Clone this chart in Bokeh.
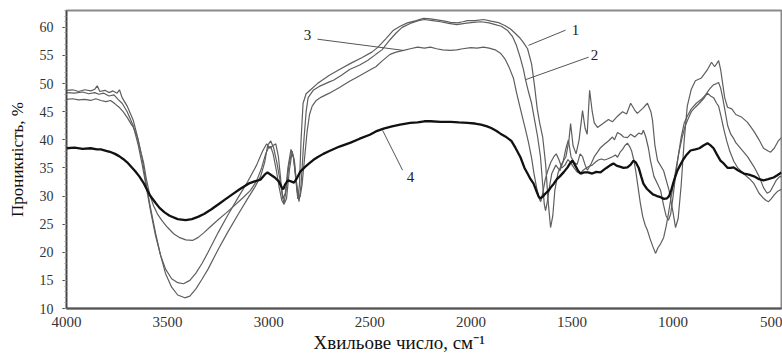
from bokeh.plotting import figure
from bokeh.models import Range1d, FixedTicker, ColumnDataSource, Title
from bokeh.core.properties import value
from bokeh.embed import file_html
from bokeh.resources import INLINE

# ---------------- data ----------------
wn_1 = [4000, 3970, 3940, 3910, 3880, 3860, 3848, 3835, 3810, 3790, 3770, 3750, 3738, 3725, 3700, 3670, 3645, 3625, 3605, 3585, 3560, 3535, 3510, 3480, 3450, 3415, 3390, 3360, 3330, 3300, 3250, 3204, 3150, 3105, 3070, 3040, 3020, 3005, 2990, 2975, 2960, 2945, 2930, 2918, 2905, 2890, 2878, 2866, 2856, 2848, 2840, 2830, 2815, 2790, 2759, 2700, 2650, 2595, 2540, 2490, 2462, 2420, 2383, 2350, 2314, 2270, 2234, 2200, 2160, 2130, 2101, 2066, 2040, 2017, 1980, 1938, 1900, 1870, 1854, 1830, 1804, 1780, 1760, 1740, 1720, 1700, 1685, 1672, 1660, 1645, 1630, 1618, 1606, 1595, 1585, 1570, 1550, 1530, 1515, 1507, 1495, 1480, 1465, 1448, 1435, 1425, 1413, 1400, 1390, 1374, 1350, 1320, 1300, 1275, 1250, 1230, 1210, 1190, 1177, 1150, 1127, 1110, 1102, 1090, 1077, 1047, 1020, 1000, 988, 975, 960, 945, 930, 910, 890, 860, 830, 810, 795, 785, 775, 765, 755, 745, 731, 710, 690, 660, 632, 600, 575, 553, 530, 518, 500, 480, 464]
t_1 = [48.8, 48.9, 48.6, 48.9, 48.7, 49.0, 49.6, 48.6, 48.8, 48.4, 48.7, 48.3, 48.9, 47.5, 46.0, 43.5, 40.0, 36.5, 32.0, 28.0, 23.5, 19.5, 16.2, 13.8, 12.4, 11.9, 12.2, 13.5, 15.2, 17.0, 20.5, 23.5, 26.8, 29.5, 31.5, 33.5, 36.0, 39.0, 39.8, 38.5, 36.0, 33.0, 29.5, 30.5, 35.0, 38.3, 37.0, 33.0, 29.5, 32.0, 40.0, 46.5, 48.2, 49.0, 50.0, 51.5, 52.5, 53.6, 54.6, 55.6, 56.4, 58.0, 59.5, 60.2, 60.8, 61.2, 61.6, 61.5, 61.3, 61.1, 60.9, 60.8, 61.0, 61.2, 61.2, 61.4, 61.1, 60.9, 60.7, 60.3, 59.7, 58.9, 58.2, 57.3, 56.2, 53.5, 49.5, 45.5, 43.0, 40.5, 35.5, 29.0, 24.4, 26.5, 31.0, 34.0, 35.8, 37.0, 40.0, 42.9, 39.0, 37.5, 40.0, 45.2, 42.0, 41.0, 48.8, 45.0, 43.0, 42.2, 42.8, 43.6, 43.2, 44.2, 45.0, 44.6, 46.5, 45.3, 44.7, 45.6, 46.5, 45.0, 43.5, 39.0, 36.3, 34.5, 31.0, 27.0, 24.4, 26.0, 32.0, 40.0, 46.0, 49.0, 50.5, 51.0, 52.5, 53.8, 53.0, 53.5, 54.1, 52.5, 50.0, 47.5, 45.8, 45.5, 44.5, 44.0, 43.1, 41.5, 40.0, 38.5, 38.0, 37.8, 38.5, 39.8, 40.4]

wn_2 = [4000, 3960, 3920, 3890, 3860, 3840, 3815, 3790, 3765, 3745, 3725, 3700, 3670, 3645, 3625, 3605, 3585, 3560, 3535, 3510, 3480, 3450, 3421, 3390, 3360, 3330, 3300, 3250, 3204, 3150, 3105, 3060, 3030, 3010, 2995, 2978, 2965, 2952, 2938, 2925, 2912, 2898, 2884, 2872, 2860, 2850, 2840, 2828, 2815, 2805, 2780, 2750, 2700, 2680, 2640, 2600, 2550, 2511, 2470, 2440, 2400, 2370, 2340, 2300, 2260, 2230, 2190, 2150, 2110, 2070, 2030, 1990, 1950, 1910, 1880, 1850, 1820, 1795, 1775, 1755, 1740, 1730, 1715, 1700, 1685, 1670, 1656, 1645, 1637, 1631, 1622, 1612, 1600, 1580, 1560, 1545, 1530, 1518, 1505, 1490, 1475, 1460, 1448, 1435, 1424, 1405, 1390, 1374, 1359, 1340, 1320, 1300, 1290, 1275, 1260, 1245, 1226, 1210, 1190, 1170, 1155, 1147, 1135, 1122, 1112, 1095, 1075, 1062, 1048, 1035, 1023, 1012, 1000, 990, 975, 960, 945, 930, 910, 885, 860, 840, 820, 800, 785, 775, 765, 755, 745, 730, 715, 700, 690, 660, 632, 600, 575, 553, 535, 520, 505, 490, 475, 464]
t_2 = [48.4, 48.3, 48.5, 48.2, 48.4, 48.1, 48.3, 47.8, 48.0, 47.2, 46.5, 45.0, 42.5, 39.0, 35.5, 31.5, 27.5, 23.0, 19.5, 17.0, 15.3, 14.6, 14.4, 15.0, 16.3, 18.0, 20.0, 23.5, 26.5, 29.8, 32.5, 35.5, 38.0, 39.3, 38.5, 39.0, 39.3, 37.0, 32.0, 28.5, 29.5, 34.5, 38.0, 36.0, 31.0, 29.0, 32.0, 39.0, 45.0, 47.5, 48.8, 49.5, 50.3, 50.6, 51.5, 52.5, 53.3, 54.1, 55.2, 56.0, 57.8, 59.0, 60.0, 60.7, 61.2, 61.4, 61.2, 61.0, 60.7, 60.5, 60.7, 60.9, 61.0, 60.8, 60.5, 60.2, 59.5, 58.4, 56.8, 54.5, 52.5, 50.7, 48.5, 46.5, 43.5, 40.5, 37.0, 32.0, 28.5, 27.4, 29.0, 31.5, 34.0, 35.5, 34.5, 36.0, 38.5, 40.0, 37.0, 36.0, 35.6, 37.5, 37.0, 35.5, 34.6, 35.8, 37.0, 37.8, 38.6, 39.2, 39.8, 40.5, 40.0, 41.3, 41.0, 40.5, 40.4, 41.0, 40.5, 41.2, 41.0, 41.7, 40.5, 38.5, 36.3, 33.5, 32.0, 31.0, 28.5, 26.5, 25.7, 26.8, 30.0, 33.0, 37.0, 40.5, 43.0, 44.2, 45.5, 46.5, 47.2, 48.0, 49.0, 49.8, 50.0, 50.2, 49.2, 47.5, 45.5, 42.5, 41.0, 40.2, 39.5, 38.2, 37.0, 35.2, 33.5, 31.5, 30.5, 30.8, 31.8, 32.8, 33.4, 33.5]

wn_3 = [4000, 3970, 3940, 3910, 3880, 3855, 3830, 3805, 3782, 3760, 3740, 3720, 3700, 3680, 3669, 3650, 3630, 3619, 3605, 3590, 3570, 3550, 3525, 3500, 3470, 3440, 3410, 3377, 3350, 3320, 3290, 3253, 3210, 3170, 3130, 3090, 3060, 3035, 3015, 3000, 2990, 2978, 2962, 2948, 2935, 2925, 2914, 2900, 2888, 2878, 2866, 2855, 2845, 2835, 2822, 2810, 2798, 2785, 2765, 2740, 2700, 2650, 2600, 2550, 2500, 2470, 2440, 2400, 2370, 2333, 2300, 2264, 2230, 2200, 2170, 2140, 2101, 2070, 2040, 2000, 1970, 1938, 1910, 1880, 1854, 1830, 1810, 1790, 1775, 1760, 1745, 1730, 1715, 1700, 1688, 1675, 1665, 1655, 1645, 1632, 1620, 1605, 1590, 1578, 1565, 1550, 1535, 1520, 1505, 1490, 1475, 1460, 1445, 1430, 1415, 1400, 1385, 1370, 1355, 1340, 1325, 1300, 1285, 1275, 1262, 1250, 1238, 1226, 1215, 1205, 1195, 1185, 1175, 1162, 1150, 1138, 1127, 1113, 1100, 1087, 1075, 1062, 1047, 1035, 1023, 1010, 998, 985, 970, 955, 940, 925, 910, 890, 870, 850, 830, 815, 800, 785, 775, 762, 750, 735, 720, 700, 680, 660, 640, 620, 600, 575, 553, 540, 528, 515, 500, 485, 464]
t_3 = [47.2, 47.3, 47.1, 47.2, 47.0, 47.3, 47.0, 46.8, 47.0, 46.4, 45.8, 45.0, 44.0, 42.8, 42.2, 40.5, 37.5, 36.0, 33.0, 30.5, 28.3, 26.8, 25.5, 24.4, 23.3, 22.6, 22.2, 22.1, 22.6, 23.5, 24.5, 25.7, 27.0, 28.3, 29.6, 31.0, 32.7, 35.0, 37.5, 38.7, 38.8, 37.5, 34.5, 31.5, 29.2, 28.6, 31.0, 35.5, 37.5, 37.0, 33.5, 30.2, 29.8, 32.0, 37.0, 41.5, 44.5, 46.0, 47.0, 47.6, 48.3, 49.3, 50.4, 51.4, 52.4, 53.0, 54.0, 55.2, 55.6, 55.9, 56.2, 56.5, 56.3, 56.5, 56.2, 56.0, 55.9, 56.0, 56.2, 56.4, 56.3, 56.5, 56.3, 56.0, 55.4, 54.3, 52.8, 51.0, 48.5, 46.2, 44.0, 41.8, 39.5, 36.8, 34.0, 31.5, 29.8, 29.0, 30.5, 33.0, 34.5, 36.0, 37.0, 37.5, 36.5, 35.0, 35.5, 36.5, 35.8, 35.0, 34.3, 34.0, 34.6, 35.0, 35.3, 35.5, 36.0, 36.4, 36.6, 36.4, 36.6, 37.0, 37.3, 36.9, 37.8, 38.3, 39.0, 39.4, 38.8, 38.0, 36.5, 34.5, 32.0, 28.7, 26.3, 24.8, 23.9, 22.3, 21.0, 19.8, 20.8, 21.5, 22.6, 24.5, 26.9, 29.8, 32.2, 35.0, 38.0, 40.5, 42.5, 43.8, 45.0, 45.8, 46.5, 47.3, 48.3, 47.8, 47.5, 46.5, 46.0, 44.0, 42.0, 39.8, 38.0, 36.2, 35.0, 34.3, 33.6, 33.0, 32.2, 30.5, 29.6, 29.2, 29.0, 29.5, 30.2, 30.8, 31.2]

wn_4 = [4000, 3960, 3920, 3880, 3850, 3830, 3800, 3780, 3760, 3740, 3720, 3700, 3680, 3660, 3640, 3620, 3600, 3585, 3560, 3540, 3515, 3490, 3450, 3411, 3380, 3350, 3320, 3285, 3250, 3215, 3180, 3140, 3100, 3070, 3041, 3020, 3006, 2990, 2970, 2950, 2935, 2928, 2920, 2905, 2890, 2875, 2860, 2843, 2820, 2800, 2780, 2759, 2730, 2700, 2650, 2595, 2550, 2500, 2470, 2432, 2390, 2350, 2300, 2264, 2230, 2200, 2150, 2100, 2060, 2017, 1980, 1950, 1920, 1900, 1875, 1854, 1830, 1800, 1780, 1755, 1735, 1720, 1705, 1690, 1675, 1665, 1656, 1645, 1630, 1615, 1606, 1590, 1575, 1560, 1540, 1522, 1510, 1498, 1485, 1470, 1458, 1440, 1420, 1400, 1380, 1359, 1345, 1330, 1310, 1295, 1280, 1260, 1245, 1226, 1210, 1196, 1185, 1170, 1158, 1147, 1130, 1115, 1100, 1080, 1062, 1045, 1030, 1020, 1008, 998, 988, 978, 965, 950, 932, 914, 890, 870, 850, 830, 815, 800, 785, 766, 750, 730, 715, 701, 680, 650, 625, 600, 575, 553, 530, 503, 485, 464]
t_4 = [38.5, 38.6, 38.4, 38.5, 38.3, 38.3, 38.0, 37.8, 37.5, 37.1, 36.6, 36.0, 35.2, 34.4, 33.5, 32.4, 31.0, 30.0, 28.8, 27.9, 27.1, 26.5, 25.9, 25.7, 25.9, 26.3, 26.8, 27.6, 28.5, 29.4, 30.3, 31.3, 32.2, 32.6, 32.9, 33.8, 34.2, 33.8, 33.3, 32.6, 31.5, 31.2, 32.0, 32.8, 32.6, 32.4, 33.2, 34.4, 35.2, 35.8, 36.4, 36.9, 37.5, 38.0, 38.8, 39.5, 40.2, 40.9, 41.5, 42.0, 42.4, 42.7, 43.0, 43.1, 43.3, 43.3, 43.2, 43.2, 43.1, 43.0, 42.9, 42.7, 42.4, 42.1, 41.6, 41.1, 40.6, 39.8, 38.6, 36.9, 35.0, 34.0, 33.0, 32.2, 30.8, 29.9, 29.6, 29.9, 30.5, 31.0, 31.5, 32.2, 33.0, 33.5, 34.3, 35.1, 35.8, 36.3, 35.5, 34.5, 34.0, 34.2, 34.2, 34.0, 34.3, 34.2, 34.6, 35.0, 35.5, 35.8, 35.4, 35.2, 35.0, 35.1, 35.6, 36.3, 36.0, 35.0, 33.5, 32.2, 31.3, 30.8, 30.3, 30.0, 29.8, 29.5, 29.6, 30.0, 31.2, 32.5, 33.6, 34.6, 35.5, 36.5, 37.4, 38.1, 38.3, 38.5, 39.0, 39.4, 39.0, 38.5, 37.5, 36.3, 35.8, 35.0, 35.0, 35.1, 34.6, 34.0, 33.8, 33.5, 33.0, 32.8, 33.0, 33.3, 33.7, 34.2]

x_ticks = [4000, 3500, 3000, 2500, 2000, 1500, 1000, 500]
y_ticks = [10, 15, 20, 25, 30, 35, 40, 45, 50, 55, 60]

x_title = "Хвильове число, см⁻¹"
y_title = "Проникність, %"

# curve labels and leader lines
label_text = ["1", "2", "3", "4"]
label_wn = [1483, 1389, 2808, 2299]
label_t = [59.5, 55.0, 58.6, 33.3]
lead_wn0 = [1532, 1418, 2759, 2338]
lead_t0 = [59.5, 54.7, 57.9, 34.6]
lead_wn1 = [1715, 1730, 2333, 2437]
lead_t1 = [56.8, 50.7, 55.9, 41.7]

# ---------------- figure ----------------
SERIF = "Liberation Serif"

p = figure(width=782, height=356, output_backend="svg", toolbar_location=None,
           x_range=Range1d(4000, 464), y_range=Range1d(10, 63),
           min_border_left=66, min_border_right=1, min_border_top=10, min_border_bottom=48)
p.background_fill_color = "white"
p.border_fill_color = "white"
p.outline_line_color = "#8a8a8a"
p.outline_line_width = 2
p.grid.visible = False

xa = p.xaxis[0]
xa.ticker = FixedTicker(ticks=x_ticks)
xa.axis_line_color = "#555555"
xa.axis_line_width = 2
xa.major_tick_line_color = None
xa.minor_tick_line_color = None
xa.major_label_text_font = SERIF
xa.major_label_text_font_size = "15px"
xa.major_label_text_color = "#333333"
xa.major_label_standoff = 2

xt = Title(text=x_title, align="left", offset=247, text_font=SERIF, text_font_size="19px",
           text_font_style="normal", text_color="#111111", standoff=0)
p.add_layout(xt, "below")

ya = p.yaxis[0]
ya.ticker = FixedTicker(ticks=y_ticks, minor_ticks=list(range(10, 64)))
ya.axis_line_color = "#444444"
ya.axis_line_width = 1.5
ya.major_tick_line_color = "#444444"
ya.major_tick_out = 4
ya.major_tick_in = 0
ya.minor_tick_line_color = "#999999"
ya.minor_tick_out = 2
ya.minor_tick_in = 0
ya.major_label_text_font = SERIF
ya.major_label_text_font_size = "14px"
ya.major_label_text_color = "#333333"
ya.major_label_standoff = 9
ya.axis_label = y_title
ya.axis_label_text_font = SERIF
ya.axis_label_text_font_size = "17px"
ya.axis_label_text_font_style = "normal"
ya.axis_label_text_color = "#111111"
ya.axis_label_standoff = 10

gray = "#5e5e5e"
p.line(wn_1, t_1, line_color=gray, line_width=1.2)
p.line(wn_2, t_2, line_color=gray, line_width=1.2)
p.line(wn_3, t_3, line_color=gray, line_width=1.2)
p.line(wn_4, t_4, line_color="#111111", line_width=2.3)

lead = ColumnDataSource(dict(x0=lead_wn0, y0=lead_t0, x1=lead_wn1, y1=lead_t1))
p.segment(x0="x0", y0="y0", x1="x1", y1="y1", source=lead, line_color="#555555", line_width=1)

lab = ColumnDataSource(dict(x=label_wn, y=label_t, text=label_text))
p.text(x="x", y="y", text="text", source=lab, text_font=value(SERIF), text_font_size="15px",
       text_color="#222222", text_align="center", text_baseline="middle")

open("out.html", "w").write(file_html(p, INLINE))
